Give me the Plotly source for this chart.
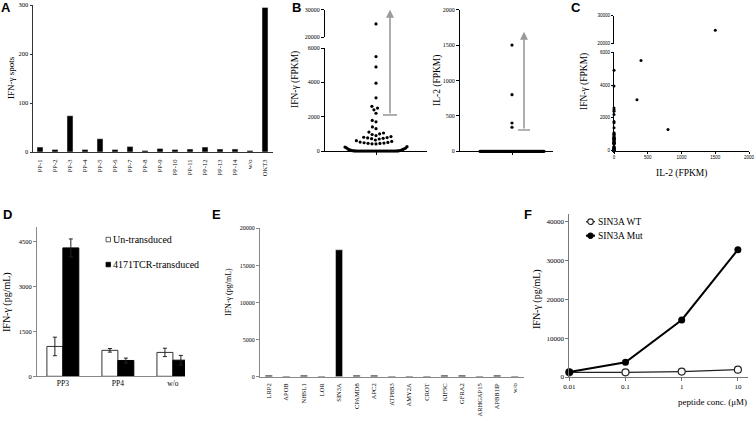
import math
import plotly.graph_objects as go

W, H = 756, 421
def X(px): return px / W
def Y(py): return 1 - py / H

# ---------------- DATA ----------------
# Panel A: ELISPOT
a_cats = ["PP-1", "PP-2", "PP-3", "PP-4", "PP-5", "PP-6", "PP-7", "PP-8", "PP-9",
          "PP-10", "PP-11", "PP-12", "PP-13", "PP-14", "w/o", "OKT3"]
a_vals = [10, 5, 74, 5, 27, 5, 11, 3, 7, 5, 6, 10, 6, 6, 3, 295]

# Panels B/C: paired per-sample FPKM values (IFN-gamma, IL-2)
ifng_main = [24800, 5500, 3100, 1300, 4900, 3950, 2600, 2500, 2400, 2200, 1780, 1700,
             1400, 1100, 1050, 1000, 960, 900, 840, 800, 780, 760, 740, 720, 700,
             640, 600, 560, 520, 500, 480, 460, 450, 440, 420, 410]
il2_main = [1500, 400, 340, 800]          # first four samples; the rest are 0
ifng_low = [250, 230, 190, 170, 130, 120, 90, 80, 55, 50, 30, 25, 12, 10, 5, 4]
n_zero = 30                               # samples with IFN-gamma FPKM = 0

# Panel D
d_cats = ["PP3", "PP4", "w/o"]
d_un = [1000, 870, 800]
d_un_err = [310, 60, 140]
d_tcr = [4300, 530, 540]
d_tcr_err = [300, 80, 160]

# Panel E
e_cats = ["LRP2", "APOB", "NHSL1", "LOR", "SIN3A", "CPAMD8", "APC2", "ATP8B3",
          "AMY2A", "CROT", "KIF5C", "GFRA2", "ARHGAP15", "APBB1IP", "w/o"]
e_vals = [200, 80, 200, 80, 17100, 200, 200, 80, 80, 80, 200, 200, 80, 200, 80]

# Panel F
f_conc = [0.01, 0.1, 1, 10]
f_wt = [1200, 1200, 1400, 1900]
f_mut = [1300, 3800, 14700, 32800]

# ---------------- helpers ----------------
ifng = ifng_main + ifng_low + [0] * n_zero
il2 = il2_main + [0] * (len(ifng) - len(il2_main))

SERIF = "Liberation Serif"
SANS = "Liberation Sans"

def swarm(values, px_per_unit, d):
    order = sorted(range(len(values)), key=lambda i: values[i])
    placed, xs = [], [0.0] * len(values)
    for i in order:
        y = values[i] * px_per_unit
        blocked = []
        for (px_, py_) in placed:
            dy = abs(py_ - y)
            if dy < d:
                dx = math.sqrt(d * d - dy * dy)
                blocked.append((px_ - dx, px_ + dx))
        cands = [0.0] + [b[0] for b in blocked] + [b[1] for b in blocked]
        cands.sort(key=lambda c: (abs(c), c))
        for c in cands:
            if all(not (lo + 1e-9 < c < hi - 1e-9) for lo, hi in blocked):
                xs[i] = c
                break
        placed.append((xs[i], y))
    return xs

def row(values, half):
    n = len(values)
    slots = [-half + 2 * half * k / (n - 1) for k in range(n)]
    slots.sort(key=lambda s: (abs(s), s))
    order = sorted(range(n), key=lambda i: values[i])
    xs = [0.0] * n
    for s, i in zip(slots, order):
        xs[i] = s
    return xs

# pixel geometry
A_X, A_Y = (32.5, 272.5), (152, 5)
B1_X, B1_YL, B1_YU = (325, 427), (151, 48), (37, 9.7)
B2_X, B2_Y = (460, 553), (151.3, 9.7)
C_X, C_YL, C_YU = (614, 749), (150.7, 52.3), (43.7, 15.7)
D_X, D_Y = (37, 185), (376.3, 227)
E_X, E_Y = (260, 523.5), (376.7, 228.3)
F_X, F_Y = (569.3, 748), (377, 214)

fig = go.Figure()

# Panel A
fig.add_trace(go.Bar(x=a_cats, y=a_vals, width=0.4, marker_color="black",
                     xaxis="x", yaxis="y", showlegend=False))

# Panel B left (IFN-gamma) - swarm
b1_scale = (B1_YL[0] - B1_YL[1]) / 6000.0
row_thr = 300
b1_row_vals = [v for v in ifng if v < row_thr]
b1_sw_vals = [v for v in ifng if row_thr <= v <= 6000]
b1_up_vals = [v for v in ifng if v > 6000]
b1_row_x = row(b1_row_vals, 31)
b1_sw_x = swarm(b1_sw_vals, b1_scale, 4.0)
mk = dict(color="black", size=3.2)
fig.add_trace(go.Scatter(x=b1_row_x + b1_sw_x, y=b1_row_vals + b1_sw_vals, mode="markers",
                         marker=mk, xaxis="x2", yaxis="y2", cliponaxis=False, showlegend=False))
fig.add_trace(go.Scatter(x=swarm(b1_up_vals, 1, 4), y=b1_up_vals, mode="markers",
                         marker=mk, xaxis="x2", yaxis="y3", cliponaxis=False, showlegend=False))

# Panel B right (IL-2)
b2_scale = (B2_Y[0] - B2_Y[1]) / 2000.0
b2_row_vals = [v for v in il2 if v * b2_scale < 5]
b2_sw_vals = [v for v in il2 if v * b2_scale >= 5]
fig.add_trace(go.Scatter(x=row(b2_row_vals, 32) + swarm(b2_sw_vals, b2_scale, 4.0),
                         y=b2_row_vals + b2_sw_vals, mode="markers", marker=mk,
                         xaxis="x3", yaxis="y4", cliponaxis=False, showlegend=False))

# Panel C scatter
c_lo = [(a, b) for a, b in zip(il2, ifng) if b <= 6000]
c_hi = [(a, b) for a, b in zip(il2, ifng) if b > 6000]
mkc = dict(color="black", size=3.0)
fig.add_trace(go.Scatter(x=[p[0] for p in c_lo], y=[p[1] for p in c_lo], mode="markers",
                         marker=mkc, xaxis="x4", yaxis="y5", cliponaxis=False, showlegend=False))
fig.add_trace(go.Scatter(x=[p[0] for p in c_hi], y=[p[1] for p in c_hi], mode="markers",
                         marker=mkc, xaxis="x4", yaxis="y6", cliponaxis=False, showlegend=False))

# Panel D
eb = dict(type="data", color="#222", thickness=1, width=2)
fig.add_trace(go.Bar(x=[0, 1, 2], y=d_un, offset=-0.29, width=0.29,
                     marker=dict(color="white", line=dict(color="#333", width=1)),
                     error_y=dict(array=d_un_err, **eb), xaxis="x5", yaxis="y7", showlegend=False))
fig.add_trace(go.Bar(x=[0, 1, 2], y=d_tcr, offset=0, width=0.29,
                     marker=dict(color="black", line=dict(color="black", width=1)),
                     error_y=dict(array=d_tcr_err, **eb), xaxis="x5", yaxis="y7", showlegend=False))

# Panel E
fig.add_trace(go.Bar(x=e_cats, y=e_vals, width=0.4, marker_color="black",
                     xaxis="x6", yaxis="y8", showlegend=False))

# Panel F
fig.add_trace(go.Scatter(x=f_conc, y=f_wt, mode="lines+markers",
                         line=dict(color="#222", width=1.3),
                         marker=dict(symbol="circle", size=7, color="white", line=dict(color="#222", width=1.2)),
                         xaxis="x7", yaxis="y9", cliponaxis=False, showlegend=False))
fig.add_trace(go.Scatter(x=f_conc, y=f_mut, mode="lines+markers",
                         line=dict(color="black", width=2),
                         marker=dict(symbol="circle", size=7, color="black"),
                         xaxis="x7", yaxis="y9", cliponaxis=False, showlegend=False))

# ---------------- axes ----------------
def ax(dom, anchor, lc="black", lw=1, fs=6.5, fam=SERIF, **kw):
    d = dict(domain=dom, anchor=anchor, showgrid=False, zeroline=False, showline=True,
             linecolor=lc, linewidth=lw, ticks="outside", ticklen=3, tickwidth=1,
             tickcolor=lc, automargin=False, tickformat="d",
             tickfont=dict(family=fam, size=fs, color="#000000"))
    d.update(kw)
    return d

xd = lambda p: [X(p[0]), X(p[1])]
yd = lambda p: [Y(p[0]), Y(p[1])]

layout_axes = dict(
    xaxis=ax(xd(A_X), "y", lc="#333", type="category", tickangle=-90, ticks="", fs=6.5,
             range=[-0.5, 15.5], ticklabelstandoff=4, tickformat=None),
    yaxis=ax(yd(A_Y), "x", lc="#333", range=[0, 300], tickvals=[0, 100, 200, 300], ticklen=2),
    xaxis2=ax(xd(B1_X), "y2", lw=1.3, range=[-51, 51], tickvals=[0], ticktext=[""]),
    yaxis2=ax(yd(B1_YL), "x2", lw=1.3, range=[0, 6000], tickvals=[0, 2000, 4000, 6000], fs=6),
    yaxis3=ax(yd(B1_YU), "x2", lw=1.3, range=[20000, 30000], tickvals=[20000, 30000], fs=6),
    xaxis3=ax(xd(B2_X), "y4", lw=1.3, range=[-52, 41], tickvals=[0], ticktext=[""]),
    yaxis4=ax(yd(B2_Y), "x3", lw=1.3, range=[0, 2000], tickvals=[0, 500, 1000, 1500, 2000], fs=6),
    xaxis4=ax(xd(C_X), "y5", lw=1.3, range=[0, 2000], tickvals=[0, 500, 1000, 1500, 2000],
              fs=4.5, fam=SANS, ticklen=2),
    yaxis5=ax(yd(C_YL), "x4", lw=1.3, range=[0, 6000], tickvals=[0, 2000, 4000, 6000],
              fs=4.5, fam=SANS, ticklen=2),
    yaxis6=ax(yd(C_YU), "x4", lw=1.3, range=[20000, 30000], tickvals=[20000, 30000],
              fs=4.5, fam=SANS, ticklen=2),
    xaxis5=ax(xd(D_X), "y7", lc="#888", range=[-0.47, 2.22], tickvals=[0, 1, 2],
              ticktext=d_cats, ticks="", fs=7.5, tickformat=None),
    yaxis7=ax(yd(D_Y), "x5", lc="#888", range=[0, 5000], tickvals=[0, 1500, 3000, 4500], fs=6.5),
    xaxis6=ax(xd(E_X), "y8", lc="#888", type="category", range=[-0.5, 14.5], tickangle=-90,
              ticks="", fs=6.5, ticklabelstandoff=3, tickformat=None),
    yaxis8=ax(yd(E_Y), "x6", lc="#888", range=[0, 20000], tickvals=[0, 5000, 10000, 15000, 20000], fs=6),
    xaxis7=ax(xd(F_X), "y9", lc="#777", type="log", range=[-2, 1.18], tickvals=f_conc,
              ticktext=["0.01", "0.1", "1", "10"], fs=7, tickformat=None),
    yaxis9=ax(yd(F_Y), "x7", lc="#777", range=[0, 42000],
              tickvals=[0, 10000, 20000, 30000, 40000], fs=7),
)

# ---------------- annotations ----------------
ann = []
def txt(x, y, s, size, fam=SERIF, angle=0, xanchor="center", bold=False):
    ann.append(dict(x=X(x), y=Y(y), xref="paper", yref="paper", text=("<b>%s</b>" % s) if bold else s,
                    showarrow=False, textangle=angle, xanchor=xanchor, yanchor="middle",
                    font=dict(family=fam, size=size, color="black")))

for lt, x, y in [("A", 6, 8), ("B", 296, 8), ("C", 576, 8), ("D", 7, 214), ("E", 216, 214), ("F", 528, 214)]:
    txt(x, y, lt, 13, fam=SANS, bold=True)

txt(11, 78, "IFN-γ spots", 9, angle=-90)
txt(296, 80, "IFN-γ (FPKM)", 9.5, angle=-90)
txt(438, 81, "IL-2 (FPKM)", 9.5, angle=-90)
txt(585, 82, "IFN-γ (FPKM)", 9.5, angle=-90)
txt(681, 173, "IL-2 (FPKM)", 9.5)
txt(7, 302, "IFN-γ (pg/mL)", 10, angle=-90)
txt(228, 292, "IFN-γ (pg/mL)", 8, angle=-90)
txt(537, 299, "IFN-γ (pg/mL)", 10, angle=-90)
txt(749, 402, "peptide conc. (μM)", 9, xanchor="right")
# D legend
txt(111, 239.5, "Un-transduced", 10, xanchor="left")
txt(111, 264.5, "4171TCR-transduced", 10, xanchor="left")
# F legend
txt(596, 221.7, "SIN3A WT", 9.5, xanchor="left")
txt(596, 235.7, "SIN3A Mut", 9.5, xanchor="left")

# arrows in panel B
ann.append(dict(x=14, y=30000, xref="x2", yref="y3", ax=0, ay=105, axref="pixel", ayref="pixel",
                showarrow=True, arrowhead=2, arrowsize=1.0, arrowwidth=1.6, arrowcolor="#9a9a9a",
                text="", standoff=0))
ann.append(dict(x=12, y=1690, xref="x3", yref="y4", ax=12, ay=300, axref="x3", ayref="y4",
                showarrow=True, arrowhead=2, arrowsize=1.0, arrowwidth=1.6, arrowcolor="#9a9a9a",
                text="", standoff=0))

shapes = [
    dict(type="line", xref="x2", yref="y2", x0=7, x1=21, y0=2100, y1=2100,
         line=dict(color="#9a9a9a", width=1.6)),
    dict(type="line", xref="x3", yref="y4", x0=6, x1=18, y0=300, y1=300,
         line=dict(color="#9a9a9a", width=1.6)),
    # D legend swatches
    dict(type="rect", xref="paper", yref="paper", x0=X(106), x1=X(110.5), y0=Y(241.8), y1=Y(237.3),
         line=dict(color="#333", width=0.8), fillcolor="white"),
    dict(type="rect", xref="paper", yref="paper", x0=X(106), x1=X(110.5), y0=Y(266.8), y1=Y(262.3),
         line=dict(color="black", width=0.8), fillcolor="black"),
    # F legend symbols
    dict(type="line", xref="paper", yref="paper", x0=X(586), x1=X(595), y0=Y(221.7), y1=Y(221.7),
         line=dict(color="#222", width=1.3)),
    dict(type="circle", xref="paper", yref="paper", x0=X(587.7), x1=X(593.3), y0=Y(224.5), y1=Y(218.9),
         line=dict(color="#222", width=1.1), fillcolor="white"),
    dict(type="line", xref="paper", yref="paper", x0=X(586), x1=X(595), y0=Y(235.7), y1=Y(235.7),
         line=dict(color="black", width=2)),
    dict(type="circle", xref="paper", yref="paper", x0=X(587.7), x1=X(593.3), y0=Y(238.5), y1=Y(232.9),
         line=dict(color="black", width=1), fillcolor="black"),
]

fig.update_layout(width=W, height=H, margin=dict(l=0, r=0, t=0, b=0, autoexpand=False),
                  autosize=False,
                  paper_bgcolor="white", plot_bgcolor="white", barmode="overlay",
                  font=dict(family=SERIF, color="black"),
                  annotations=ann, shapes=shapes, **layout_axes)

fig.write_html("out.html", config={"displayModeBar": False},
               post_script="document.body.style.margin='0';document.body.style.overflow='hidden';")
